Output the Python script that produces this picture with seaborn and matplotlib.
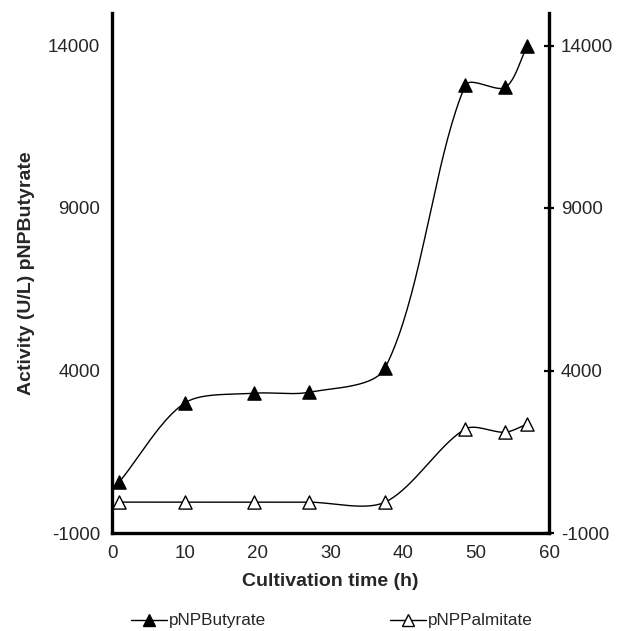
import numpy as np
import pandas as pd
import matplotlib
matplotlib.use("Agg")
import matplotlib.pyplot as plt
import seaborn as sns
from matplotlib.lines import Line2D

sns.set_style("white")
plt.rcParams['font.family'] = ['Liberation Sans', 'DejaVu Sans']

time_h = [1, 10, 19.5, 27, 37.5, 48.5, 54, 57]
butyrate = [570, 3000, 3300, 3330, 4080, 12770, 12710, 13980]
palmitate = [-50, -50, -50, -50, -50, 2200, 2100, 2350]
yticks = [-1000, 4000, 9000, 14000]
xticks = [0, 10, 20, 30, 40, 50, 60]

W, H = 620, 631
L, R, T, B = 112, 549, 13, 533
XLIM = (0, 60)
YLIM = (-1000, 15000)


def smooth(x, y, n=40, f=0.3):
    # spreadsheet-style smoothed line (length-weighted Bezier handles), in screen space
    sxs = (R - L) / (XLIM[1] - XLIM[0])
    sys_ = (B - T) / (YLIM[1] - YLIM[0])
    x = np.asarray(x, float) * sxs
    y = np.asarray(y, float) * sys_
    P = np.column_stack([x, y])
    P = np.vstack([P[0], P, P[-1]])
    xs, ys = [], []
    t = np.linspace(0, 1, n)
    for i in range(1, len(P) - 2):
        p0, p1, p2, p3 = P[i - 1], P[i], P[i + 1], P[i + 2]
        d01 = np.linalg.norm(p1 - p0); d12 = np.linalg.norm(p2 - p1); d23 = np.linalg.norm(p3 - p2)
        a = d12 / (d01 + d12) if d01 + d12 > 0 else 0
        b = d12 / (d12 + d23) if d12 + d23 > 0 else 0
        c1 = p1 + (p2 - p0) * f * a
        c2 = p2 - (p3 - p1) * f * b
        pts = ((1 - t)[:, None] ** 3 * p1 + 3 * ((1 - t) ** 2 * t)[:, None] * c1
               + 3 * ((1 - t) * t ** 2)[:, None] * c2 + (t ** 3)[:, None] * p2)
        xs.extend(pts[:, 0]); ys.extend(pts[:, 1])
    return np.array(xs) / sxs, np.array(ys) / sys_


fig = plt.figure(figsize=(W / 100, H / 100), dpi=100)
ax = fig.add_axes([L / W, 1 - B / H, (R - L) / W, (B - T) / H])

for vals, face in [(butyrate, 'black'), (palmitate, 'white')]:
    sx, sy = smooth(time_h, vals)
    ax.plot(sx, sy, color='black', lw=1.0, zorder=2)
    df = pd.DataFrame({'t': time_h, 'v': vals})
    sns.scatterplot(data=df, x='t', y='v', marker='^', s=90, color=face,
                    edgecolor='black', linewidth=1.0, ax=ax, zorder=3)

ax.set_xlim(*XLIM)
ax.set_ylim(*YLIM)
ax.set_xticks(xticks)
ax.set_yticks(yticks)
ax.set_xticklabels([str(v) for v in xticks], fontsize=13.5)
ax.set_yticklabels([str(v) for v in yticks], fontsize=13.5)
ax.set_xlabel('Cultivation time (h)', fontsize=14, fontweight='bold', labelpad=8)
ax.set_ylabel('Activity (U/L) pNPButyrate', fontsize=14, fontweight='bold', labelpad=9)

ax.spines['top'].set_visible(False)
for s in ['left', 'right', 'bottom']:
    ax.spines[s].set_linewidth(2.4)
    ax.spines[s].set_color('black')
ax.tick_params(axis='both', direction='inout', length=7, width=1.6, color='black', pad=5)
ax.tick_params(axis='y', right=True, labelright=True)

handles = [Line2D([0], [0], color='black', lw=1.0, marker='^', markersize=9,
                  markerfacecolor='black', markeredgecolor='black'),
           Line2D([0], [0], color='black', lw=1.0, marker='^', markersize=9,
                  markerfacecolor='white', markeredgecolor='black')]
fig.legend(handles, ['pNPButyrate', 'pNPPalmitate'], loc='center',
           bbox_to_anchor=(332 / W, 1 - 621 / H), ncol=2, frameon=False,
           fontsize=12.3, columnspacing=7.25, handlelength=2.1, handletextpad=0.1,
           borderpad=0.0)

fig.savefig('out.png', dpi=100)
